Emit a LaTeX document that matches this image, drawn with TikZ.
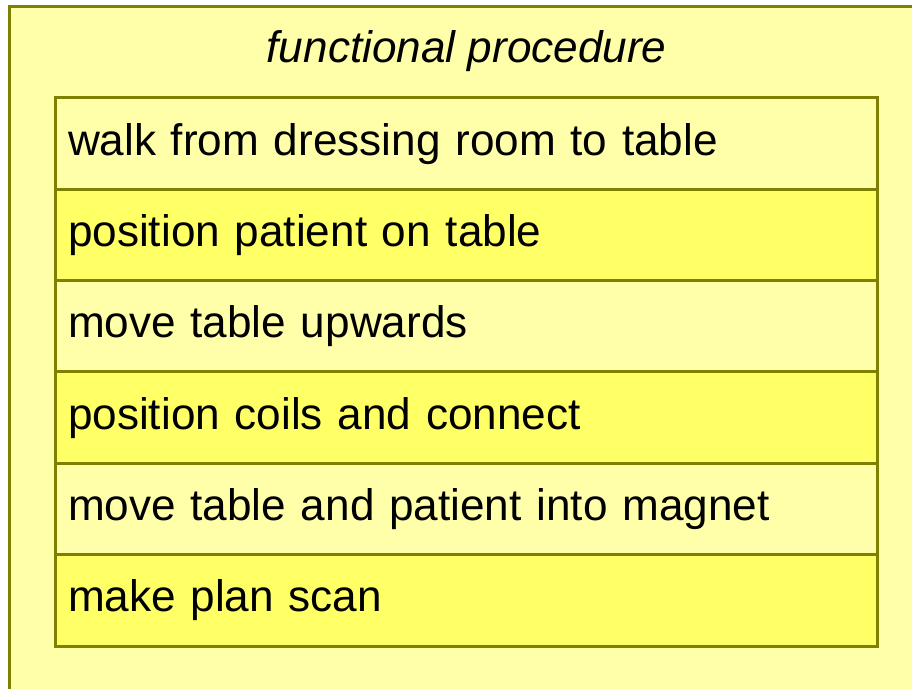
\documentclass[tikz,border=0pt]{standalone}
\usepackage{fontspec}
\setmainfont{Liberation Sans}
\usetikzlibrary{positioning}
\definecolor{paleyellow}{HTML}{FFFFAA}
\definecolor{deepyellow}{HTML}{FFFF66}
\definecolor{oliveline}{HTML}{808000}
\tikzset{
  outerbox/.style={
    draw = oliveline,
    fill = paleyellow,
    line width = 2.25pt
  },
  rowbox/.style={
    draw = oliveline,
    line width = 2.25pt,
    outer sep = 0pt,
    inner xsep = 9.75pt,
    inner ysep = 0pt,
    text width = 597pt,
    minimum height = 68.5pt,
    align = left,
    font = \fontsize{33.1}{40}\selectfont
  },
  pale/.style={fill = paleyellow},
  deep/.style={fill = deepyellow},
  headline/.style={
    font = \fontsize{33.1}{40}\selectfont\itshape
  }
}
\begin{document}
\begin{tikzpicture}[x=1pt,y=1pt]
    \useasboundingbox (0,0) rectangle (684,516);
    \clip (0,0) rectangle (684,516);
    \draw[outerbox] (7.1,510.75) rectangle (700,-20);
    \node[headline] (heading) at (350,477.5) {functional procedure};
    % steps of the procedure
    \node[rowbox, pale, anchor=north west] (walk) at (41.25,442.5) {walk from dressing room to table};
    \node[rowbox, deep, below=0pt of walk] (patient) {position patient on table};
    \node[rowbox, pale, below=0pt of patient] (upwards) {move table upwards};
    \node[rowbox, deep, below=0pt of upwards] (coils) {position coils and connect};
    \node[rowbox, pale, below=0pt of coils] (magnet) {move table and patient into magnet};
    \node[rowbox, deep, below=0pt of magnet] (planscan) {make plan scan};
\end{tikzpicture}
\end{document}
